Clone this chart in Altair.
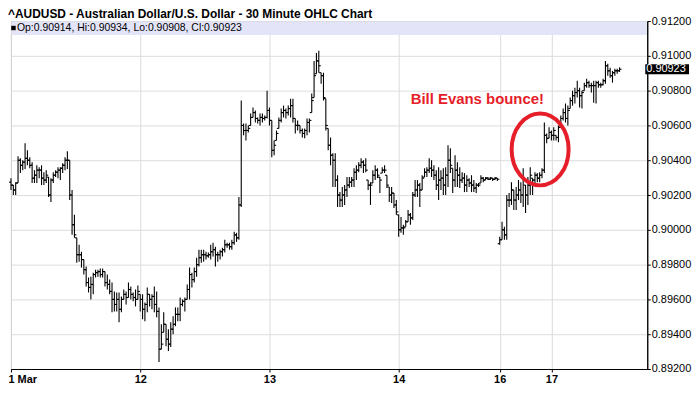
import altair as alt
import pandas as pd

title_text = "^AUDUSD - Australian Dollar/U.S. Dollar - 30 Minute OHLC Chart"
day_labels = ["1 Mar", "12", "13", "14", "16", "17"]
day_sizes = [55, 55, 55, 43, 22, 30]
y_ticks = [0.892, 0.894, 0.896, 0.898, 0.900, 0.902, 0.904, 0.906, 0.908, 0.910, 0.912]

# 30-minute bars
opens = [
    # 11 Mar
    0.90274, 0.90257, 0.90229, 0.90269, 0.90400, 0.90371, 0.90389, 0.90411, 0.90400, 0.90371,
    0.90297, 0.90314, 0.90343, 0.90343, 0.90297, 0.90286, 0.90303, 0.90200, 0.90286, 0.90314,
    0.90331, 0.90343, 0.90354, 0.90371, 0.90400, 0.90400, 0.90200, 0.90029, 0.89954, 0.89857,
    0.89857, 0.89829, 0.89771, 0.89697, 0.89669, 0.89686, 0.89743, 0.89754, 0.89760, 0.89743,
    0.89760, 0.89697, 0.89686, 0.89646, 0.89600, 0.89571, 0.89600, 0.89543, 0.89600, 0.89629,
    0.89611, 0.89657, 0.89629, 0.89611, 0.89600,
    # 12 Mar
    0.89629, 0.89600, 0.89543, 0.89571, 0.89629, 0.89600, 0.89617, 0.89571, 0.89531, 0.89314,
    0.89411, 0.89457, 0.89371, 0.89343, 0.89429, 0.89457, 0.89514, 0.89514, 0.89571, 0.89589,
    0.89600, 0.89657, 0.89743, 0.89714, 0.89760, 0.89800, 0.89840, 0.89857, 0.89857, 0.89851,
    0.89857, 0.89874, 0.89886, 0.89857, 0.89857, 0.89874, 0.89886, 0.89914, 0.89914, 0.89903,
    0.89926, 0.89971, 0.89954, 0.90143, 0.90600, 0.90571, 0.90571, 0.90600, 0.90646, 0.90674,
    0.90640, 0.90629, 0.90646, 0.90640, 0.90646,
    # 13 Mar
    0.90686, 0.90629, 0.90457, 0.90514, 0.90583, 0.90629, 0.90674, 0.90686, 0.90674, 0.90697,
    0.90714, 0.90640, 0.90600, 0.90600, 0.90571, 0.90554, 0.90571, 0.90617, 0.90674, 0.90760,
    0.90897, 0.90971, 0.90903, 0.90886, 0.90754, 0.90583, 0.90486, 0.90429, 0.90400, 0.90286,
    0.90200, 0.90171, 0.90200, 0.90229, 0.90257, 0.90274, 0.90286, 0.90331, 0.90343, 0.90371,
    0.90389, 0.90371, 0.90286, 0.90257, 0.90269, 0.90314, 0.90343, 0.90303, 0.90326, 0.90343,
    0.90314, 0.90246, 0.90200, 0.90211, 0.90143,
    # 14 Mar
    0.90086, 0.90000, 0.90011, 0.90017, 0.90046, 0.90086, 0.90069, 0.90200, 0.90229, 0.90257,
    0.90229, 0.90303, 0.90331, 0.90343, 0.90354, 0.90343, 0.90314, 0.90257, 0.90286, 0.90297,
    0.90257, 0.90314, 0.90400, 0.90354, 0.90286, 0.90343, 0.90314, 0.90286, 0.90297, 0.90257,
    0.90286, 0.90269, 0.90257, 0.90240, 0.90257, 0.90269, 0.90297, 0.90286, 0.90297, 0.90291,
    0.90297, 0.90291, 0.90297,
    # 16 Mar
    0.89920, 0.89943, 0.90000, 0.89971, 0.90171, 0.90171, 0.90229, 0.90171, 0.90200, 0.90229,
    0.90200, 0.90257, 0.90200, 0.90257, 0.90297, 0.90286, 0.90314, 0.90297, 0.90314, 0.90343,
    0.90543, 0.90526,
    # 17 Mar
    0.90560, 0.90543, 0.90543, 0.90531, 0.90589, 0.90640, 0.90674, 0.90640, 0.90697, 0.90743,
    0.90771, 0.90789, 0.90800, 0.90771, 0.90800, 0.90829, 0.90846, 0.90829, 0.90829, 0.90829,
    0.90846, 0.90834, 0.90834, 0.90857, 0.90943, 0.90914, 0.90886, 0.90903, 0.90914, 0.90914,
]
highs = [
    # 11 Mar
    0.90297, 0.90257, 0.90274, 0.90423, 0.90411, 0.90400, 0.90497, 0.90457, 0.90417, 0.90389,
    0.90343, 0.90371, 0.90360, 0.90371, 0.90331, 0.90343, 0.90303, 0.90297, 0.90331, 0.90343,
    0.90360, 0.90360, 0.90383, 0.90417, 0.90451, 0.90400, 0.90229, 0.90086, 0.89954, 0.89914,
    0.89874, 0.89829, 0.89789, 0.89726, 0.89731, 0.89754, 0.89771, 0.89771, 0.89777, 0.89777,
    0.89760, 0.89743, 0.89714, 0.89697, 0.89646, 0.89640, 0.89640, 0.89617, 0.89657, 0.89646,
    0.89697, 0.89674, 0.89640, 0.89657, 0.89680,
    # 12 Mar
    0.89629, 0.89629, 0.89583, 0.89669, 0.89629, 0.89629, 0.89674, 0.89646, 0.89554, 0.89457,
    0.89526, 0.89457, 0.89429, 0.89469, 0.89503, 0.89554, 0.89554, 0.89611, 0.89600, 0.89611,
    0.89686, 0.89783, 0.89754, 0.89783, 0.89840, 0.89886, 0.89886, 0.89886, 0.89874, 0.89869,
    0.89914, 0.89926, 0.89903, 0.89874, 0.89886, 0.89897, 0.89943, 0.89926, 0.89926, 0.89943,
    0.89989, 0.89983, 0.90189, 0.90743, 0.90611, 0.90611, 0.90600, 0.90669, 0.90703, 0.90686,
    0.90646, 0.90669, 0.90669, 0.90657, 0.90800,
    # 13 Mar
    0.90703, 0.90629, 0.90514, 0.90571, 0.90646, 0.90697, 0.90714, 0.90697, 0.90714, 0.90754,
    0.90754, 0.90640, 0.90629, 0.90600, 0.90583, 0.90583, 0.90640, 0.90640, 0.90783, 0.90971,
    0.91017, 0.91029, 0.90903, 0.90903, 0.90754, 0.90583, 0.90531, 0.90440, 0.90440, 0.90314,
    0.90217, 0.90246, 0.90257, 0.90303, 0.90303, 0.90303, 0.90354, 0.90371, 0.90389, 0.90411,
    0.90400, 0.90411, 0.90286, 0.90274, 0.90343, 0.90371, 0.90354, 0.90303, 0.90360, 0.90371,
    0.90314, 0.90246, 0.90246, 0.90211, 0.90171,
    # 14 Mar
    0.90086, 0.90074, 0.90029, 0.90057, 0.90114, 0.90097, 0.90217, 0.90286, 0.90286, 0.90269,
    0.90314, 0.90354, 0.90360, 0.90411, 0.90400, 0.90371, 0.90343, 0.90360, 0.90343, 0.90354,
    0.90360, 0.90486, 0.90469, 0.90354, 0.90429, 0.90389, 0.90360, 0.90331, 0.90326, 0.90314,
    0.90297, 0.90314, 0.90286, 0.90269, 0.90269, 0.90314, 0.90303, 0.90303, 0.90303, 0.90303,
    0.90297, 0.90303, 0.90297,
    # 16 Mar
    0.89960, 0.90046, 0.90017, 0.90200, 0.90211, 0.90274, 0.90229, 0.90246, 0.90286, 0.90274,
    0.90354, 0.90257, 0.90303, 0.90360, 0.90297, 0.90331, 0.90326, 0.90331, 0.90354, 0.90617,
    0.90554, 0.90589,
    # 17 Mar
    0.90571, 0.90589, 0.90543, 0.90600, 0.90657, 0.90697, 0.90726, 0.90714, 0.90760, 0.90800,
    0.90817, 0.90857, 0.90817, 0.90800, 0.90846, 0.90869, 0.90857, 0.90846, 0.90857, 0.90857,
    0.90857, 0.90846, 0.90869, 0.90971, 0.90954, 0.90931, 0.90914, 0.90926, 0.90926, 0.90934,
]
lows = [
    # 11 Mar
    0.90229, 0.90200, 0.90200, 0.90269, 0.90326, 0.90343, 0.90349, 0.90371, 0.90354, 0.90269,
    0.90269, 0.90269, 0.90297, 0.90257, 0.90257, 0.90269, 0.90189, 0.90160, 0.90269, 0.90303,
    0.90297, 0.90286, 0.90326, 0.90343, 0.90349, 0.90171, 0.89971, 0.89954, 0.89811, 0.89817,
    0.89783, 0.89743, 0.89674, 0.89640, 0.89600, 0.89629, 0.89726, 0.89731, 0.89726, 0.89726,
    0.89674, 0.89657, 0.89629, 0.89526, 0.89531, 0.89531, 0.89469, 0.89526, 0.89600, 0.89571,
    0.89611, 0.89600, 0.89589, 0.89560, 0.89600,
    # 12 Mar
    0.89531, 0.89486, 0.89474, 0.89526, 0.89560, 0.89543, 0.89526, 0.89497, 0.89240, 0.89314,
    0.89411, 0.89331, 0.89303, 0.89326, 0.89400, 0.89446, 0.89474, 0.89474, 0.89560, 0.89531,
    0.89600, 0.89600, 0.89669, 0.89697, 0.89731, 0.89789, 0.89811, 0.89817, 0.89829, 0.89840,
    0.89829, 0.89846, 0.89789, 0.89817, 0.89829, 0.89846, 0.89869, 0.89897, 0.89886, 0.89886,
    0.89914, 0.89931, 0.89943, 0.90131, 0.90543, 0.90514, 0.90560, 0.90600, 0.90646, 0.90617,
    0.90611, 0.90600, 0.90617, 0.90629, 0.90640,
    # 13 Mar
    0.90600, 0.90417, 0.90429, 0.90514, 0.90583, 0.90617, 0.90646, 0.90640, 0.90657, 0.90646,
    0.90617, 0.90554, 0.90571, 0.90554, 0.90531, 0.90526, 0.90543, 0.90560, 0.90674, 0.90760,
    0.90897, 0.90903, 0.90840, 0.90743, 0.90571, 0.90457, 0.90371, 0.90246, 0.90246, 0.90131,
    0.90131, 0.90131, 0.90143, 0.90189, 0.90240, 0.90246, 0.90246, 0.90286, 0.90331, 0.90354,
    0.90326, 0.90331, 0.90229, 0.90143, 0.90269, 0.90286, 0.90297, 0.90211, 0.90326, 0.90326,
    0.90240, 0.90160, 0.90154, 0.90126, 0.90086,
    # 14 Mar
    0.89960, 0.89983, 0.89971, 0.90017, 0.90046, 0.90029, 0.90057, 0.90189, 0.90189, 0.90131,
    0.90229, 0.90303, 0.90303, 0.90326, 0.90303, 0.90286, 0.90229, 0.90171, 0.90229, 0.90200,
    0.90200, 0.90246, 0.90326, 0.90211, 0.90246, 0.90246, 0.90240, 0.90269, 0.90217, 0.90217,
    0.90246, 0.90217, 0.90217, 0.90211, 0.90246, 0.90269, 0.90274, 0.90286, 0.90286, 0.90286,
    0.90280, 0.90286, 0.90280,
    # 16 Mar
    0.89914, 0.89943, 0.89943, 0.89943, 0.90131, 0.90143, 0.90114, 0.90114, 0.90171, 0.90154,
    0.90131, 0.90097, 0.90143, 0.90200, 0.90200, 0.90269, 0.90274, 0.90274, 0.90297, 0.90326,
    0.90497, 0.90526,
    # 17 Mar
    0.90514, 0.90514, 0.90514, 0.90503, 0.90589, 0.90629, 0.90617, 0.90600, 0.90697, 0.90714,
    0.90726, 0.90760, 0.90703, 0.90697, 0.90800, 0.90817, 0.90817, 0.90789, 0.90731, 0.90726,
    0.90817, 0.90817, 0.90829, 0.90840, 0.90886, 0.90874, 0.90846, 0.90886, 0.90897, 0.90908,
]
closes = [
    # 11 Mar
    0.90257, 0.90229, 0.90269, 0.90400, 0.90371, 0.90389, 0.90411, 0.90400, 0.90371, 0.90297,
    0.90314, 0.90343, 0.90343, 0.90297, 0.90286, 0.90314, 0.90200, 0.90286, 0.90314, 0.90331,
    0.90343, 0.90354, 0.90371, 0.90400, 0.90400, 0.90200, 0.90029, 0.89971, 0.89857, 0.89857,
    0.89829, 0.89771, 0.89697, 0.89669, 0.89686, 0.89743, 0.89754, 0.89760, 0.89743, 0.89760,
    0.89697, 0.89686, 0.89646, 0.89600, 0.89571, 0.89600, 0.89543, 0.89600, 0.89629, 0.89611,
    0.89657, 0.89629, 0.89611, 0.89600, 0.89646,
    # 12 Mar
    0.89600, 0.89543, 0.89571, 0.89629, 0.89600, 0.89617, 0.89571, 0.89531, 0.89314, 0.89343,
    0.89457, 0.89371, 0.89343, 0.89429, 0.89457, 0.89514, 0.89514, 0.89571, 0.89589, 0.89600,
    0.89657, 0.89743, 0.89714, 0.89760, 0.89800, 0.89840, 0.89857, 0.89857, 0.89851, 0.89857,
    0.89874, 0.89886, 0.89857, 0.89857, 0.89874, 0.89886, 0.89914, 0.89914, 0.89903, 0.89926,
    0.89971, 0.89954, 0.90143, 0.90600, 0.90571, 0.90571, 0.90583, 0.90646, 0.90674, 0.90640,
    0.90629, 0.90646, 0.90640, 0.90646, 0.90686,
    # 13 Mar
    0.90629, 0.90457, 0.90486, 0.90554, 0.90629, 0.90674, 0.90686, 0.90674, 0.90697, 0.90714,
    0.90640, 0.90600, 0.90600, 0.90571, 0.90554, 0.90571, 0.90617, 0.90629, 0.90743, 0.90886,
    0.90971, 0.90943, 0.90886, 0.90760, 0.90600, 0.90486, 0.90429, 0.90400, 0.90286, 0.90200,
    0.90171, 0.90200, 0.90229, 0.90257, 0.90274, 0.90286, 0.90331, 0.90343, 0.90371, 0.90389,
    0.90371, 0.90343, 0.90257, 0.90257, 0.90314, 0.90343, 0.90314, 0.90286, 0.90343, 0.90343,
    0.90257, 0.90200, 0.90211, 0.90143, 0.90103,
    # 14 Mar
    0.90000, 0.90011, 0.90011, 0.90046, 0.90086, 0.90069, 0.90200, 0.90229, 0.90257, 0.90229,
    0.90297, 0.90331, 0.90343, 0.90354, 0.90343, 0.90314, 0.90257, 0.90286, 0.90297, 0.90257,
    0.90314, 0.90400, 0.90371, 0.90286, 0.90343, 0.90314, 0.90286, 0.90297, 0.90257, 0.90286,
    0.90269, 0.90257, 0.90240, 0.90257, 0.90257, 0.90297, 0.90286, 0.90297, 0.90291, 0.90297,
    0.90291, 0.90297, 0.90291,
    # 16 Mar
    0.89943, 0.90000, 0.89971, 0.90171, 0.90171, 0.90229, 0.90171, 0.90200, 0.90229, 0.90200,
    0.90286, 0.90200, 0.90257, 0.90314, 0.90286, 0.90314, 0.90297, 0.90314, 0.90343, 0.90543,
    0.90526, 0.90560,
    # 17 Mar
    0.90543, 0.90571, 0.90531, 0.90589, 0.90640, 0.90674, 0.90640, 0.90686, 0.90743, 0.90771,
    0.90789, 0.90800, 0.90771, 0.90789, 0.90829, 0.90846, 0.90829, 0.90829, 0.90829, 0.90846,
    0.90834, 0.90834, 0.90857, 0.90943, 0.90914, 0.90886, 0.90903, 0.90914, 0.90914, 0.90923,
]

note_text = ["Bill Evans bounce!"]
note_bar = [170.1]
note_price = [0.90724]
ring_bar = [225.2]
ring_price = [0.90462]

RED = "#E61E2A"
FONT = "Liberation Sans"
W, H = 640, 350

n = len(closes)
df = pd.DataFrame({"i": list(range(n)), "open": opens, "high": highs,
                   "low": lows, "close": closes})

day_starts = []
s = 0
for k in day_sizes:
    day_starts.append(s)
    s += k

xs = alt.Scale(domain=[0, 270.8], nice=False, zero=False)
ys = alt.Scale(domain=[0.892, 0.912], nice=False, zero=False)

label_expr = "".join(f"datum.value == {v} ? '{t}' : " for v, t in zip(day_starts, day_labels)) + "''"

x_axis = alt.Axis(values=day_starts, labelExpr=label_expr, title=None, grid=True,
                  gridColor="#DCDCDC", domainColor="black", tickColor="black", tickSize=3,
                  labelFont=FONT, labelFontSize=11, labelFontWeight="bold", labelColor="black",
                  labelPadding=2, labelFlush=True, labelOverlap=False,
                  labelOffset={"condition": {"test": "datum.value == 0", "value": -3}, "value": 0})
y_axis = alt.Axis(orient="right", values=y_ticks, format=".5f", title=None, grid=True,
                  gridColor="#DCDCDC", domainColor="black", tickColor="black", tickSize=3,
                  labelFont=FONT, labelFontSize=11, labelColor="black", labelPadding=1,
                  labelOverlap=False)


def X(field):
    return alt.X(field, scale=xs, axis=x_axis)


def Y(field):
    return alt.Y(field, scale=ys, axis=y_axis)


one = pd.DataFrame({"k": [0]})

hl = alt.Chart(df).mark_rule(color="black", strokeWidth=1.1).encode(
    x=X("i:Q"), y=Y("low:Q"), y2="high:Q")
op = alt.Chart(df).mark_rule(color="black", strokeWidth=1.1, x2Offset=-2).encode(
    x=X("i:Q"), x2="i:Q", y=Y("open:Q"))
cl = alt.Chart(df).mark_rule(color="black", strokeWidth=1.1, x2Offset=2).encode(
    x=X("i:Q"), x2="i:Q", y=Y("close:Q"))

band = alt.Chart(one).mark_rect(color="#E4E4F8").encode(
    x=alt.value(0.5), x2=alt.value(W - 0.5), y=alt.value(0.5), y2=alt.value(14))

hdr_text = f"Op:{opens[-1]:.5f}, Hi:{highs[-1]:.5f}, Lo:{lows[-1]:.5f}, Cl:{closes[-1]:.5f}"
sq = alt.Chart(one).mark_square(size=20, color="black", filled=True, opacity=1).encode(
    x=alt.value(2.5), y=alt.value(7))
hdr = alt.Chart(one).mark_text(text=hdr_text, align="left", baseline="middle", font=FONT,
                               fontSize=10.5, color="black").encode(x=alt.value(6), y=alt.value(7.5))
ttl = alt.Chart(one).mark_text(text=title_text, align="left", baseline="alphabetic", font=FONT,
                               fontSize=12, fontWeight="bold", color="black").encode(
    x=alt.value(-3), y=alt.value(-3.5))

last = pd.DataFrame({"price": [closes[-1]]})
box = alt.Chart(last).mark_rule(color="black", strokeWidth=10).encode(
    x=alt.value(W - 2), x2=alt.value(W + 42), y=Y("price:Q"))
boxt = alt.Chart(last).mark_text(align="left", baseline="middle", color="white", font=FONT,
                                 fontSize=11).encode(
    x=alt.value(W - 1), y=Y("price:Q"), text=alt.Text("price:Q", format=".5f"))

note_df = pd.DataFrame({"i": note_bar, "price": note_price, "t": note_text})
note = alt.Chart(note_df).mark_text(align="left", baseline="alphabetic", font=FONT, fontSize=15,
                                    fontWeight="bold", color=RED).encode(
    x=X("i:Q"), y=Y("price:Q"), text="t:N")

ELLIPSE = "M -0.7925 0 A 0.7925 1 0 1 0 0.7925 0 A 0.7925 1 0 1 0 -0.7925 0 Z"
ring_df = pd.DataFrame({"i": ring_bar, "price": ring_price})
ring = alt.Chart(ring_df).mark_point(shape=ELLIPSE, size=5227, filled=False, strokeWidth=4,
                                     color=RED, opacity=1).encode(
    x=X("i:Q"), y=Y("price:Q"))

chart = alt.layer(hl, op, cl, band, sq, hdr, ttl, box, boxt, note, ring).properties(
    width=W, height=H,
    autosize=alt.AutoSizeParams(type="none"),
    padding={"left": 3, "top": 12, "right": 45, "bottom": 22},
    background="white",
).configure_view(stroke="black", strokeWidth=1)

chart.save("out.html", embed_options={"renderer": "svg", "actions": False})
